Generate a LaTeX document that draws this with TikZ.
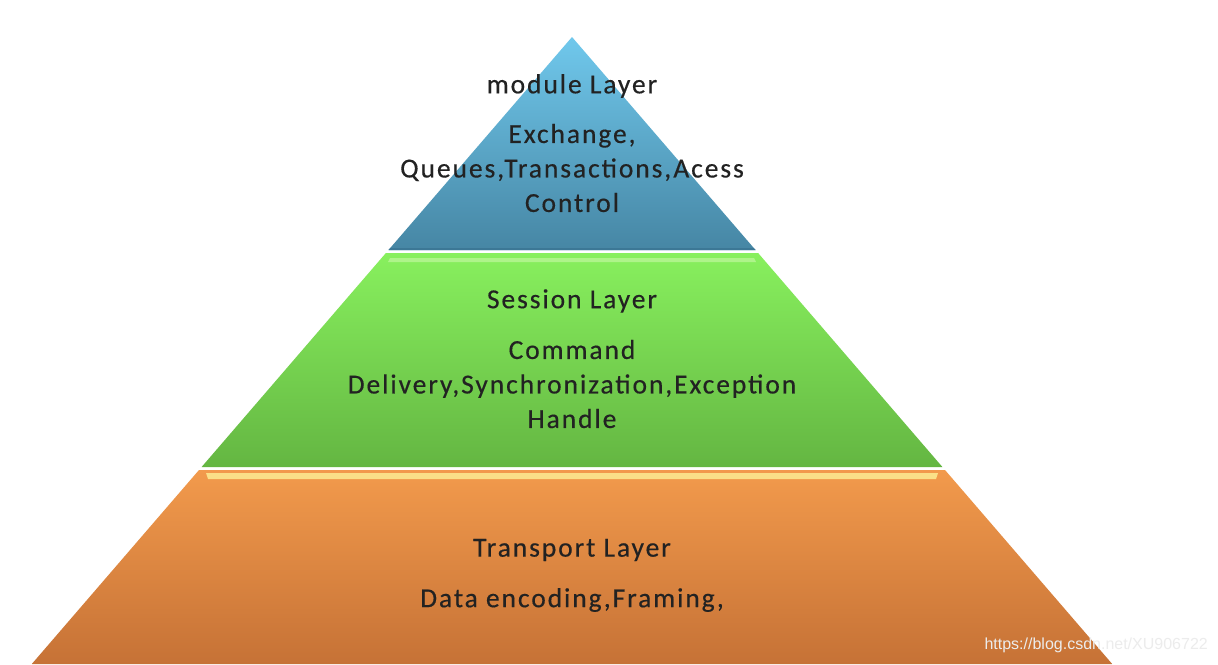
\documentclass[tikz,border=0pt]{standalone}
\usepackage{fontspec}
\setmainfont{Carlito}[LetterSpace=7, FakeBold=0.4]
\newfontfamily\wmfont{Liberation Sans}
\definecolor{blueT}{RGB}{112,200,236}
\definecolor{blueB}{RGB}{70,134,164}
\definecolor{blueEdge}{RGB}{60,120,150}
\definecolor{greenT}{RGB}{136,240,94}
\definecolor{greenB}{RGB}{100,182,66}
\definecolor{greenHi}{RGB}{184,246,150}
\definecolor{orangeT}{RGB}{242,154,76}
\definecolor{orangeB}{RGB}{198,114,54}
\definecolor{orangeHi}{RGB}{250,224,136}
\definecolor{txt}{RGB}{34,34,34}
\definecolor{wmc}{RGB}{236,236,236}
\begin{document}
\begin{tikzpicture}[x=1pt,y=-1pt,
  lbl/.style={text=txt, font=\fontsize{27.5}{34.5}\selectfont, align=center, inner sep=0pt, anchor=center},
  wm/.style={text=wmc, font=\wmfont\fontsize{16}{18}\selectfont, inner sep=0pt, anchor=east}]
\useasboundingbox (0,0) rectangle (1218,664);
\fill[white] (0,0) rectangle (1218,664);
% top layer
\shade[top color=blueT, bottom color=blueB]
  (572,37) -- (755.5,250) -- (388.5,250) -- cycle;
\fill[blueEdge] (390.2,248) -- (753.8,248) -- (755.5,250) -- (388.5,250) -- cycle;
% middle layer
\shade[top color=greenT, bottom color=greenB]
  (385.9,253) -- (758.1,253) -- (942.4,467) -- (201.6,467) -- cycle;
\fill[greenHi, opacity=0.8] (390,258) -- (754,258) -- (756,262) -- (388,262) -- cycle;
% bottom layer
\shade[top color=orangeT, bottom color=orangeB]
  (199,470) -- (945,470) -- (1112.2,664) -- (31.8,664) -- cycle;
\fill[orangeHi] (206,473) -- (938,473) -- (936,479) -- (208,479) -- cycle;
% texts
\node[lbl] (t1) at (572,86) {module Layer};
\node[lbl] (b1) at (572,168) {Exchange,\\Queues,Transactions,Acess\\Control};
\node[lbl] (t2) at (572,301) {Session Layer};
\node[lbl] (b2) at (572,384) {Command\\Delivery,Synchronization,Exception\\Handle};
\node[lbl] (t3) at (572,550) {Transport Layer};
\node[lbl] (b3) at (572,600) {Data encoding,Framing,};
\node[wm] (w) at (1208,645) {https://blog.csdn.net/XU906722};
\end{tikzpicture}
\end{document}
